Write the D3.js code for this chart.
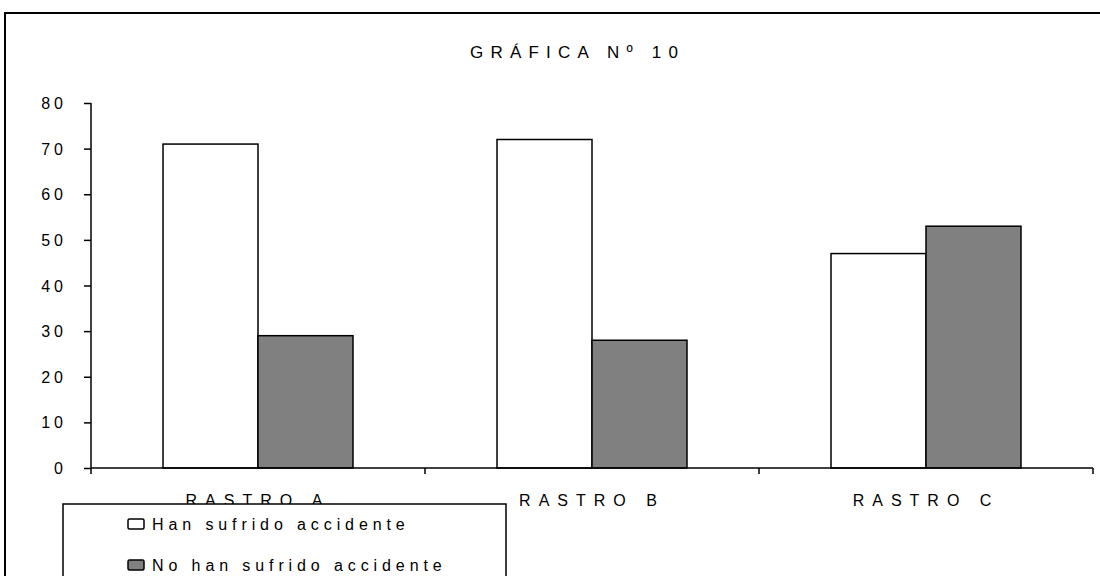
<!DOCTYPE html>
<html><head><meta charset="utf-8">
<script src="https://cdn.jsdelivr.net/npm/d3@7"></script>
<style>
html,body{margin:0;padding:0;background:#fff;}
svg{display:block;font-family:"Liberation Sans",Arial,sans-serif;}
</style></head>
<body>
<svg id="c" width="1100" height="576"></svg>
<script>
const title = "GRÁFICA Nº 10";
const categories = ["RASTRO A", "RASTRO B", "RASTRO C"];
const seriesNames = ["Han sufrido accidente", "No han sufrido accidente"];
const hanSufrido = [71, 72, 47];
const noHanSufrido = [29, 28, 53];
const yTicks = [0, 10, 20, 30, 40, 50, 60, 70, 80];
const colors = ["#ffffff", "#808080"];

const svg = d3.select("#c");
// outer frame
svg.append("rect").attr("x", 5).attr("y", 13).attr("width", 1200).attr("height", 700)
  .attr("fill", "#fff").attr("stroke", "#000").attr("stroke-width", 2);

const titleLs = 7.2;
svg.append("text").attr("x", 574 + titleLs / 2).attr("y", 58).attr("text-anchor", "middle")
  .attr("font-size", 17).attr("letter-spacing", titleLs).text(title);

const y = d3.scaleLinear().domain([0, 80]).range([468, 103]);
const x = d3.scaleBand().domain(categories).range([91, 1093]).padding(0);
const bw = x.bandwidth();
const xs = d3.scaleBand().domain(seriesNames).range([bw * 0.2156, bw * 0.7844]).padding(0);

const data = categories.map((c, i) => ({cat: c, vals: [hanSufrido[i], noHanSufrido[i]]}));

const g = svg.append("g");
data.forEach(d => {
  d.vals.forEach((v, j) => {
    g.append("rect")
      .attr("x", x(d.cat) + xs(seriesNames[j]))
      .attr("y", y(v))
      .attr("width", xs.bandwidth())
      .attr("height", y(0) - y(v))
      .attr("fill", colors[j]).attr("stroke", "#000").attr("stroke-width", 1.5);
  });
});

// y axis
const yLs = 4;
const yAxis = d3.axisLeft(y).tickValues(yTicks).tickSize(7).tickFormat(d3.format("d"));
const ya = svg.append("g").attr("transform", "translate(91,0)").call(yAxis);
ya.select(".domain").attr("stroke", "#000").attr("stroke-width", 1.5).attr("d", "M0,103V468");
ya.selectAll(".tick line").attr("stroke", "#000").attr("stroke-width", 1.5);
ya.selectAll(".tick text").attr("font-size", 16).attr("font-family", "Liberation Sans, Arial, sans-serif")
  .attr("fill", "#000").attr("letter-spacing", yLs).attr("x", -28 + yLs).attr("dy", "0.35em");

// x axis
const xLs = 8;
const xa = svg.append("g").attr("transform", "translate(0,468)");
xa.append("line").attr("x1", 91).attr("x2", 1093).attr("y1", 0).attr("y2", 0)
  .attr("stroke", "#000").attr("stroke-width", 1.5);
const bounds = categories.map(c => x(c)).concat([x(categories[categories.length - 1]) + bw]);
xa.selectAll("line.tk").data(bounds).enter().append("line").attr("class", "tk")
  .attr("x1", d => d).attr("x2", d => d).attr("y1", 0).attr("y2", 6)
  .attr("stroke", "#000").attr("stroke-width", 1.5);
xa.selectAll("text").data(categories).enter().append("text")
  .attr("x", d => x(d) + bw / 2).attr("y", 38).attr("text-anchor", "middle")
  .attr("font-size", 16).attr("letter-spacing", xLs).text(d => d);

// legend
const lg = svg.append("g");
lg.append("rect").attr("x", 63).attr("y", 504).attr("width", 443).attr("height", 100)
  .attr("fill", "#fff").attr("stroke", "#000").attr("stroke-width", 1.5);
seriesNames.forEach((s, i) => {
  const yy = 524 + i * 41;
  lg.append("rect").attr("x", 128).attr("y", yy - 5).attr("width", 16).attr("height", 10)
    .attr("rx", 1.5).attr("fill", colors[i]).attr("stroke", "#000").attr("stroke-width", 1.5);
  lg.append("text").attr("x", 152).attr("y", yy + 6).attr("font-size", 16)
    .attr("letter-spacing", 4.9).text(s);
});
</script>
</body></html>
